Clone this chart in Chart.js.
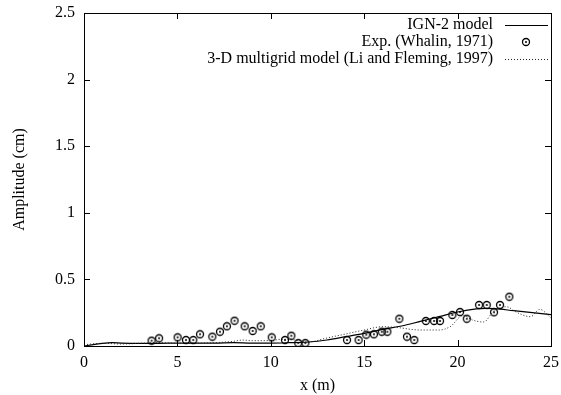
<html>
<head>
<style>
  body { margin: 0; background: #fff; }
</style>
<script src="https://cdn.jsdelivr.net/npm/chart.js"></script>
</head>
<body>
<canvas id="myChart" width="561" height="395"></canvas>
<script>
  // IGN-2 model (solid)
  const ignX = [0, 0.5, 1, 1.5, 2, 3, 4, 5, 6, 7, 8, 9, 10, 11, 12, 13, 14, 15, 16, 17, 18, 19, 20, 21, 21.5, 22, 23, 24, 25];
  const ignY = [0, 0.01, 0.02, 0.025, 0.022, 0.02, 0.02, 0.022, 0.022, 0.022, 0.025, 0.022, 0.022, 0.025, 0.03, 0.045, 0.07, 0.095, 0.125, 0.15, 0.185, 0.22, 0.255, 0.278, 0.282, 0.28, 0.265, 0.25, 0.235];

  // Exp. (Whalin, 1971)
  const expX = [3.62, 4.02, 5.01, 5.46, 5.85, 6.21, 6.87, 7.28, 7.65, 8.06, 8.6, 9.03, 9.46, 10.05, 10.76, 11.1, 11.47, 11.85,
                14.08, 14.7, 15.11, 15.52, 15.94, 16.24, 16.88, 17.29, 17.68, 18.3, 18.74, 19.06, 19.72, 20.13, 20.49, 21.15, 21.56, 21.95, 22.27, 22.77];
  const expY = [0.04, 0.058, 0.065, 0.045, 0.045, 0.088, 0.07, 0.107, 0.148, 0.19, 0.148, 0.113, 0.148, 0.065, 0.045, 0.077, 0.022, 0.022,
                0.045, 0.045, 0.085, 0.088, 0.107, 0.107, 0.205, 0.07, 0.045, 0.188, 0.188, 0.188, 0.233, 0.255, 0.205, 0.308, 0.308, 0.253, 0.308, 0.37];

  // 3-D multigrid model (Li and Fleming, 1997) (dotted)
  const liX = [0, 1, 2, 3, 4, 5, 6, 7, 8, 8.5, 9, 10, 10.5, 11, 11.5, 12, 13, 14, 15, 16, 17, 17.5, 18, 19, 19.6, 20.3, 20.8, 21.4, 21.9, 22.6, 23.2, 23.9, 24.4, 25];
  const liY = [0.01, 0.02, 0.015, 0.02, 0.025, 0.02, 0.02, 0.025, 0.035, 0.045, 0.04, 0.04, 0.05, 0.05, 0.04, 0.03, 0.06, 0.09, 0.12, 0.145, 0.135, 0.125, 0.12, 0.12, 0.145, 0.23, 0.195, 0.18, 0.255, 0.295, 0.25, 0.22, 0.275, 0.21];

  const xTicks = [0, 5, 10, 15, 20, 25];
  const yTicks = [0, 0.5, 1, 1.5, 2, 2.5];

  const FONT = "'Liberation Serif', 'Times New Roman', serif";

  // circle with a dot in the middle, used as the point marker
  const marker = document.createElement('canvas');
  marker.width = 10; marker.height = 10;
  (function () {
    const c = marker.getContext('2d');
    c.strokeStyle = '#000';
    c.lineWidth = 1.3;
    c.beginPath(); c.arc(5, 5, 3.5, 0, Math.PI * 2); c.stroke();
    c.fillStyle = '#000';
    c.beginPath(); c.arc(5, 5, 1, 0, Math.PI * 2); c.fill();
  })();

  function pairs(xs, ys) {
    return xs.map((x, i) => ({ x: x, y: ys[i] }));
  }

  // frame, inside ticks on all four sides, and the legend
  const framePlugin = {
    id: 'frame',
    afterDatasetsDraw(chart) {
      const ctx = chart.ctx;
      const a = chart.chartArea;
      const xs = chart.scales.x, ys = chart.scales.y;
      ctx.save();
      ctx.strokeStyle = '#000';
      ctx.lineWidth = 1;
      ctx.strokeRect(Math.round(a.left) + 0.5, Math.round(a.top) + 0.5, Math.round(a.right - a.left), Math.round(a.bottom - a.top));
      ctx.beginPath();
      xTicks.forEach(v => {
        const px = Math.round(xs.getPixelForValue(v)) + 0.5;
        ctx.moveTo(px, a.bottom); ctx.lineTo(px, a.bottom - 6);
        ctx.moveTo(px, a.top); ctx.lineTo(px, a.top + 6);
      });
      yTicks.forEach(v => {
        const py = Math.round(ys.getPixelForValue(v)) + 0.5;
        ctx.moveTo(a.left, py); ctx.lineTo(a.left + 6, py);
        ctx.moveTo(a.right, py); ctx.lineTo(a.right - 6, py);
      });
      ctx.stroke();

      // legend
      ctx.font = '16px ' + FONT;
      ctx.fillStyle = '#000';
      ctx.textAlign = 'right';
      ctx.textBaseline = 'middle';
      chart.data.datasets.forEach((ds, i) => {
        const y = a.top + 12 + i * 17;
        ctx.fillText(ds.label, a.right - 58, y);
        if (ds.showLine === false) {
          ctx.drawImage(marker, Math.round(a.right - 25 - 5), Math.round(y - 5));
        } else {
          ctx.save();
          ctx.strokeStyle = ds.borderColor;
          ctx.lineWidth = ds.borderWidth;
          ctx.setLineDash(ds.borderDash || []);
          ctx.beginPath();
          ctx.moveTo(a.right - 46, Math.round(y) + 0.5);
          ctx.lineTo(a.right - 3, Math.round(y) + 0.5);
          ctx.stroke();
          ctx.restore();
        }
      });
      ctx.restore();
    }
  };

  const config = {
    type: 'scatter',
    data: {
      datasets: [
        {
          label: 'IGN-2 model',
          data: pairs(ignX, ignY),
          showLine: true,
          borderColor: '#000',
          borderWidth: 1.2,
          pointRadius: 0,
          cubicInterpolationMode: 'monotone',
          order: 2
        },
        {
          label: 'Exp. (Whalin, 1971)',
          data: pairs(expX, expY),
          showLine: false,
          pointStyle: marker,
          pointRadius: 4,
          order: 0
        },
        {
          label: '3-D multigrid model (Li and Fleming, 1997)',
          data: pairs(liX, liY),
          showLine: true,
          borderColor: '#222',
          borderWidth: 1,
          borderDash: [1, 2],
          pointRadius: 0,
          cubicInterpolationMode: 'monotone',
          order: 1
        }
      ]
    },
    options: {
      responsive: false,
      animation: false,
      layout: { padding: { top: 13, right: 10, left: 0, bottom: 0 } },
      plugins: {
        legend: { display: false },
        tooltip: { enabled: false }
      },
      scales: {
        x: {
          type: 'linear',
          min: 0,
          max: 25,
          afterBuildTicks(scale) { scale.ticks = xTicks.map(v => ({ value: v })); },
          afterFit(scale) { scale.height = 49; scale.paddingLeft = 0; scale.paddingRight = 0; },
          grid: { display: false, drawTicks: false },
          border: { display: false },
          ticks: { color: '#000', font: { family: FONT, size: 16 }, padding: 7, callback: v => String(v) },
          title: { display: true, text: 'x (m)', color: '#000', font: { family: FONT, size: 16 }, padding: { top: 0, bottom: 0 } }
        },
        y: {
          type: 'linear',
          min: 0,
          max: 2.5,
          afterBuildTicks(scale) { scale.ticks = yTicks.map(v => ({ value: v })); },
          afterFit(scale) { scale.width = 84; scale.paddingTop = 0; scale.paddingBottom = 0; },
          grid: { display: false, drawTicks: false },
          border: { display: false },
          ticks: { color: '#000', font: { family: FONT, size: 16 }, padding: 9, callback: v => String(v) },
          title: { display: true, text: 'Amplitude (cm)', color: '#000', font: { family: FONT, size: 16 }, padding: { top: 10, bottom: 0 } }
        }
      }
    },
    plugins: [framePlugin]
  };

  const myChart = new Chart(document.getElementById('myChart'), config);
</script>
</body>
</html>
